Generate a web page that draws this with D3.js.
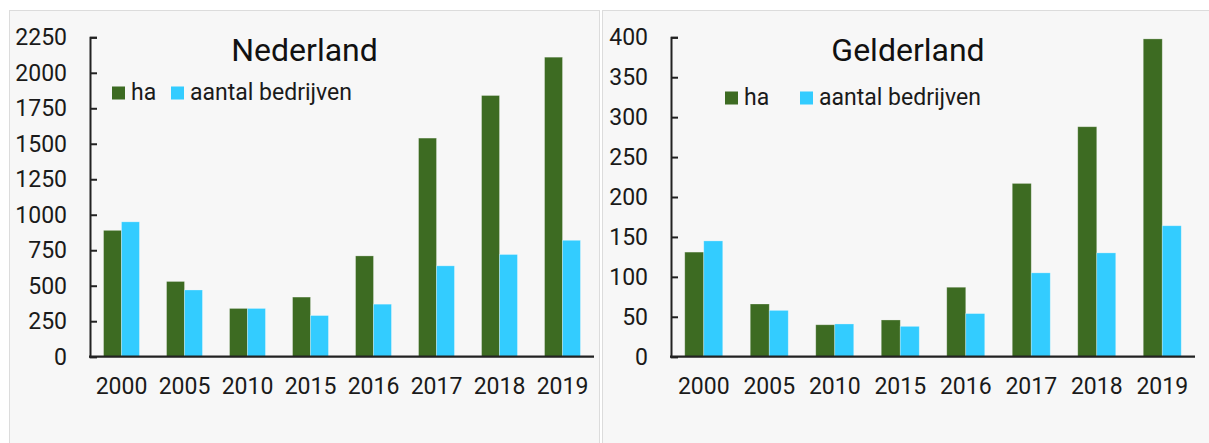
<!DOCTYPE html>
<html><head><meta charset="utf-8">
<script src="https://cdn.jsdelivr.net/npm/d3@7"></script>
<style>
html,body{margin:0;padding:0;background:#fff;}
svg{display:block;font-family:Roboto, "Noto Sans", sans-serif;}
</style></head>
<body><svg id="c" width="1209" height="443"></svg>
<script>
const years = ["2000","2005","2010","2015","2016","2017","2018","2019"];
const seriesNames = ["ha","aantal bedrijven"];
const nlHa = [890,530,340,420,710,1540,1840,2110];
const nlBedrijven = [950,470,340,290,370,640,720,820];
const gldHa = [131,66,40,46,87,217,288,398];
const gldBedrijven = [145,58,41,38,54,105,130,164];
const nlTicks = [0,250,500,750,1000,1250,1500,1750,2000,2250];
const gldTicks = [0,50,100,150,200,250,300,350,400];
const colors = ["#3d6b22","#33ccff"];

const svg = d3.select("#c");

function panel(o){
  const g = svg.append("g");
  g.append("rect").attr("x",o.px).attr("y",10.5).attr("width",o.pw).attr("height",460)
    .attr("fill","#f7f7f7").attr("stroke","#dcdcdc").attr("stroke-width",1);
  const y = d3.scaleLinear().domain([0,o.max]).range([356.7,37.3]);
  const x = d3.scaleBand().domain(years).range([o.x0,o.x1]).paddingInner(o.pad).paddingOuter(o.pad/2);
  const xs = d3.scaleBand().domain(seriesNames).range([0,x.bandwidth()]);
  const data = [o.ha,o.bed];
  data.forEach((vals,si)=>{
    g.append("g").selectAll("rect").data(vals).join("rect")
      .attr("x",(d,i)=>x(years[i])+xs(seriesNames[si]))
      .attr("width",xs.bandwidth())
      .attr("y",d=>y(d))
      .attr("height",d=>y(0)-y(d))
      .attr("fill",colors[si])
      .attr("stroke","rgba(255,255,255,0.35)").attr("stroke-width",0.8);
  });
  const ya = g.append("g").attr("transform",`translate(${o.x0},0)`)
    .call(d3.axisLeft(y).tickValues(o.ticks).tickFormat(d3.format("d")).tickSizeInner(-7).tickSizeOuter(-7).tickPadding(23));
  ya.selectAll("path,line").attr("stroke","#222").attr("stroke-width",2);
  ya.selectAll("text").attr("font-size",23).attr("fill","#1a1a1a").attr("font-family","Roboto");
  const xa = g.append("g").attr("transform",`translate(0,${y(0)})`)
    .call(d3.axisBottom(x).tickSize(0).tickPadding(21));
  xa.select("path").attr("stroke","#222").attr("stroke-width",2.2).attr("d",`M${o.x0-1},0H${o.x1}`);
  xa.selectAll("text").attr("font-size",23).attr("fill","#1a1a1a").attr("font-family","Roboto");
  g.append("text").attr("x",o.tx).attr("y",61).attr("text-anchor","middle")
    .attr("font-size",32).attr("fill","#111").text(o.title);
  seriesNames.forEach((s,i)=>{
    g.append("rect").attr("x",o.lx[i]).attr("y",o.ly-13).attr("width",13).attr("height",13).attr("fill",colors[i]);
    g.append("text").attr("x",o.lx[i]+19).attr("y",o.ly).attr("font-size",23).attr("fill","#1a1a1a").text(s);
  });
}

panel({px:9.5,pw:590,x0:90,x1:594,max:2250,ticks:nlTicks,pad:0.43,ha:nlHa,bed:nlBedrijven,
  title:"Nederland",tx:304.5,lx:[112,171],ly:99.5});
panel({px:602.5,pw:620,x0:671,x1:1195,max:400,ticks:gldTicks,pad:0.42,ha:gldHa,bed:gldBedrijven,
  title:"Gelderland",tx:908,lx:[725,800],ly:104.5});
</script></body></html>
